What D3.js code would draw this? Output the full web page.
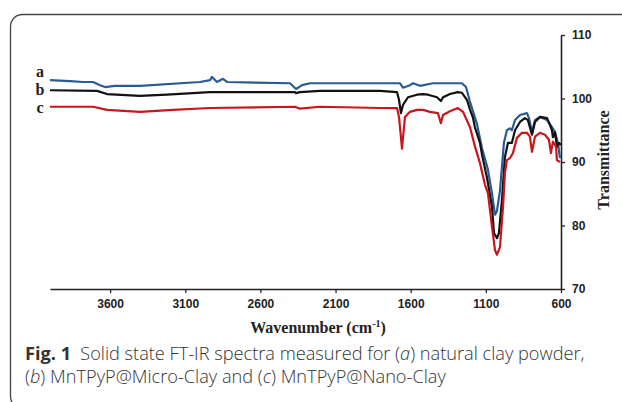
<!DOCTYPE html>
<html>
<head>
<meta charset="utf-8">
<script src="https://cdn.jsdelivr.net/npm/d3@7"></script>
<style>
  body { margin: 0; background: #fff; }
  svg { display: block; }
</style>
</head>
<body>
<div id="chart"></div>
<script>
// wavenumber (cm-1), transmittance
var seriesA = [[4000,102.9],[3867,102.75],[3780,102.6],[3714,102.6],[3667,102.1],[3634,101.8],[3568,102.0],[3401,102.0],
  [3002,102.6],[2935,102.9],[2922,103.4],[2889,102.6],[2849,103.1],[2822,102.6],[2403,102.4],[2363,101.5],[2323,102.1],
  [2270,102.4],[1671,102.4],[1651,101.7],[1605,102.1],[1585,102.4],[1538,102.0],[1452,102.4],[1259,102.4],[1232,101.8],
  [1206,99.5],[1186,98.0],[1159,96.0],[1126,92.2],[1100,90.0],[1086,88.8],[1059,85.0],[1039,81.7],[1026,82.3],[1006,85.5],
  [993,89.2],[980,93.0],[960,95.0],[940,95.3],[927,95.0],[906,96.6],[873,97.4],[827,97.7],[813,96.9],[793,94.7],[773,96.6],
  [740,97.1],[693,96.6],[660,95.5],[640,94.7],[620,93.0],[607,90.6]];
var seriesB = [[4000,101.3],[3687,101.2],[3621,100.7],[3401,100.4],[3222,100.6],[2935,101.0],[2370,101.0],[2363,100.85],
  [2337,101.0],[2204,101.2],[1804,101.2],[1691,101.0],[1678,99.8],[1665,97.7],[1651,99.0],[1618,100.2],[1558,100.6],
  [1518,100.7],[1485,100.6],[1425,100.2],[1399,99.6],[1385,100.2],[1339,100.7],[1286,101.0],[1259,100.9],[1226,99.8],
  [1206,98.3],[1186,97.0],[1173,95.5],[1139,93.0],[1126,91.2],[1093,87.6],[1059,82.9],[1046,78.8],[1026,78.0],[1013,78.8],
  [993,84.0],[973,90.8],[953,93.0],[927,93.0],[906,95.0],[873,96.3],[840,96.9],[820,96.6],[793,94.3],[773,96.3],[740,97.1],
  [693,96.9],[673,95.8],[660,95.0],[654,93.9],[640,94.7],[627,92.4],[613,93.0],[600,92.7]];
var seriesC = [[4000,98.7],[3714,98.7],[3621,98.2],[3401,97.9],[3182,98.2],[2935,98.5],[2370,98.7],[2337,98.4],[2204,98.7],
  [1804,98.5],[1691,98.5],[1678,97.1],[1665,93.9],[1658,92.1],[1651,93.9],[1638,97.1],[1605,97.9],[1558,98.2],[1518,98.2],
  [1472,97.9],[1419,97.7],[1399,96.1],[1385,97.4],[1339,98.0],[1286,98.5],[1252,97.9],[1206,95.5],[1173,92.5],[1139,89.8],
  [1106,86.4],[1086,85.1],[1059,79.8],[1039,76.1],[1026,75.4],[1006,76.6],[986,82.9],[973,88.3],[960,90.3],[940,90.6],
  [920,91.4],[893,93.8],[860,94.6],[827,94.6],[807,94.0],[793,91.6],[773,94.0],[740,94.6],[707,94.3],[680,93.5],[667,91.4],
  [654,93.2],[633,92.4],[627,90.3],[607,90.0]];
var seriesNames = ["a", "b", "c"];
var seriesColors = ["#2b5b93", "#111111", "#c8161d"];
var xTicks = [3600, 3100, 2600, 2100, 1600, 1100, 600];
var yTicks = [70, 80, 90, 100, 110];

var svg = d3.select("#chart").append("svg")
  .attr("width", 622)
  .attr("height", 402);

// rounded figure frame, runs off the right and bottom edges
svg.append("rect")
  .attr("x", 10.5).attr("y", 14.5)
  .attr("width", 700).attr("height", 394)
  .attr("rx", 12)
  .attr("fill", "none")
  .attr("stroke", "#444")
  .attr("stroke-width", 1.3);

var x = d3.scaleLinear().domain([4000, 600]).range([50, 561]);
var y = d3.scaleLinear().domain([70, 110]).range([289, 35]);

// x axis
var gx = svg.append("g")
  .attr("transform", "translate(0,289)")
  .call(d3.axisBottom(x).tickValues(xTicks).tickFormat(d3.format("d"))
    .tickSize(4).tickSizeOuter(0).tickPadding(6));
gx.select(".domain").attr("stroke", "#222").attr("stroke-width", 1.6);
gx.selectAll(".tick line").attr("stroke", "#222").attr("stroke-width", 1.3);
gx.selectAll(".tick text")
  .attr("font-family", "Liberation Sans, Arial, sans-serif")
  .attr("font-weight", "bold").attr("font-size", 12).attr("fill", "#222");

// y axis on the right
var gy = svg.append("g")
  .attr("transform", "translate(561,0)")
  .call(d3.axisRight(y).tickValues(yTicks).tickFormat(d3.format("d"))
    .tickSize(4).tickSizeOuter(0).tickPadding(7));
gy.select(".domain").attr("stroke", "#222").attr("stroke-width", 1.6);
gy.selectAll(".tick line").attr("stroke", "#222").attr("stroke-width", 1.3);
gy.selectAll(".tick text")
  .attr("font-family", "Liberation Sans, Arial, sans-serif")
  .attr("font-weight", "bold").attr("font-size", 12).attr("fill", "#222");

// spectra
var line = d3.line()
  .x(function(d) { return x(d[0]); })
  .y(function(d) { return y(d[1]); });

[seriesA, seriesB, seriesC].forEach(function(s, i) {
  svg.append("path")
    .datum(s)
    .attr("d", line)
    .attr("fill", "none")
    .attr("stroke", seriesColors[i])
    .attr("stroke-width", 2.2)
    .attr("stroke-linejoin", "round");
});

// series letters
var labelY = [77, 95, 113];
svg.selectAll(".serlab")
  .data(seriesNames)
  .enter().append("text")
  .attr("class", "serlab")
  .attr("x", 40)
  .attr("y", function(d, i) { return labelY[i]; })
  .attr("text-anchor", "middle")
  .attr("font-family", "Liberation Serif, Times New Roman, serif")
  .attr("font-weight", "bold")
  .attr("font-size", 16)
  .attr("fill", "#222")
  .text(function(d) { return d; });

// axis titles
var xt = svg.append("text")
  .attr("x", 318).attr("y", 333)
  .attr("text-anchor", "middle")
  .attr("font-family", "Liberation Serif, Times New Roman, serif")
  .attr("font-weight", "bold")
  .attr("font-size", 16)
  .attr("fill", "#222");
xt.append("tspan").text("Wavenumber (cm");
xt.append("tspan").attr("dy", -6).attr("font-size", 10).text("-1");
xt.append("tspan").attr("dy", 6).text(")");

svg.append("text")
  .attr("transform", "translate(609,160) rotate(-90)")
  .attr("text-anchor", "middle")
  .attr("font-family", "Liberation Serif, Times New Roman, serif")
  .attr("font-weight", "bold")
  .attr("font-size", 16)
  .attr("fill", "#222")
  .text("Transmittance");

// caption
var cap1 = svg.append("text")
  .attr("x", 25).attr("y", 360)
  .attr("font-family", "Open Sans, Noto Sans, sans-serif")
  .attr("font-size", 18.2)
  .attr("font-weight", 300)
  .attr("fill", "#333");
cap1.append("tspan").attr("font-weight", "bold").text("Fig. 1");
cap1.append("tspan").text("\u2002Solid state FT-IR spectra measured for (");
cap1.append("tspan").attr("font-style", "italic").text("a");
cap1.append("tspan").text(") natural clay powder,");

var cap2 = svg.append("text")
  .attr("x", 25).attr("y", 383)
  .attr("font-family", "Open Sans, Noto Sans, sans-serif")
  .attr("font-size", 18.2)
  .attr("font-weight", 300)
  .attr("fill", "#333");
cap2.append("tspan").text("(");
cap2.append("tspan").attr("font-style", "italic").text("b");
cap2.append("tspan").text(") MnTPyP@Micro-Clay and (");
cap2.append("tspan").attr("font-style", "italic").text("c");
cap2.append("tspan").text(") MnTPyP@Nano-Clay");
</script>
</body>
</html>
